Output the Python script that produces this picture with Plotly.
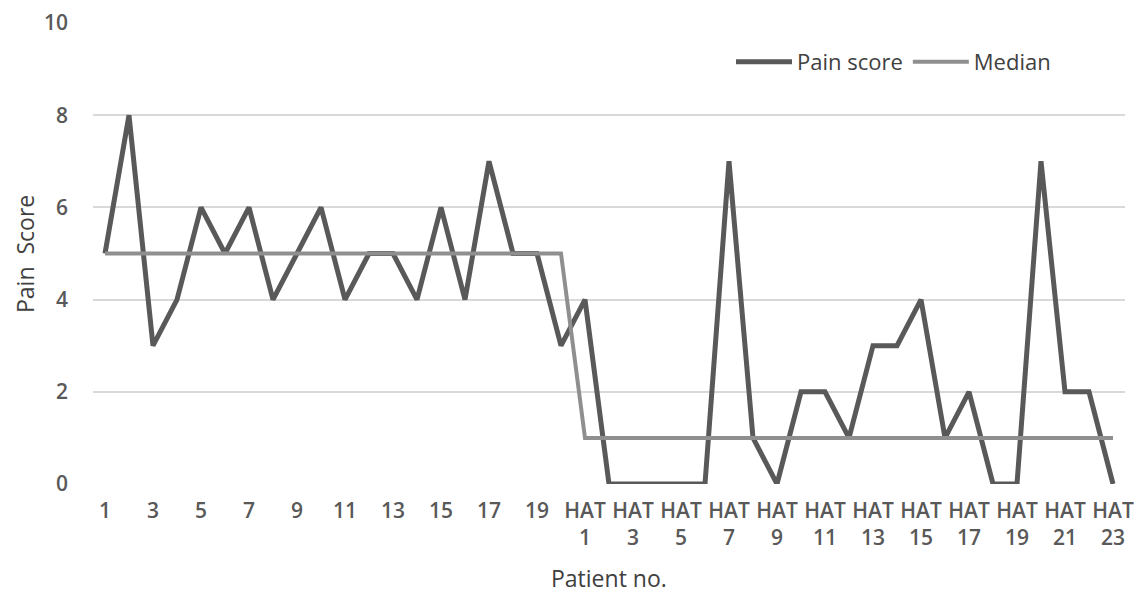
import plotly.graph_objects as go

categories = [str(i) for i in range(1, 21)] + [f"HAT {i}" for i in range(1, 24)]
pain_score = [5, 8, 3, 4, 6, 5, 6, 4, 5, 6, 4, 5, 5, 4, 6, 4, 7, 5, 5, 3,
              4, 0, 0, 0, 0, 0, 7, 1, 0, 2, 2, 1, 3, 3, 4, 1, 2, 0, 0, 7, 2, 2, 0]
median = [5] * 20 + [1] * 23
tick_idx = list(range(0, 43, 2))
tick_text = [categories[i].replace(" ", "<br>") for i in tick_idx]

x = list(range(len(categories)))

fig = go.Figure()
fig.add_trace(go.Scatter(x=x, y=pain_score, mode="lines", name="Pain score",
                         line=dict(color="#595959", width=5),
                         text=categories))
fig.add_trace(go.Scatter(x=x, y=median, mode="lines", name="Median",
                         line=dict(color="#8f8f8f", width=4),
                         text=categories))

tick_font = dict(family="Open Sans", size=21, color="#595959", weight=600)
title_font = dict(family="Open Sans", size=23, color="#404040")

W, H = 1137, 594
pl, pr, pt, pb = 93, 12, 23, 110
pw, ph = W - pl - pr, H - pt - pb

fig.update_layout(
    width=W, height=H,
    paper_bgcolor="white", plot_bgcolor="white",
    margin=dict(l=pl, r=pr, t=pt, b=pb, autoexpand=False),
    font=dict(family="Open Sans, Liberation Sans, sans-serif", color="#595959", size=15),
    showlegend=True,
    legend=dict(orientation="h", x=(731 - pl) / pw, xanchor="left", y=(H - pb - 62) / ph,
                yanchor="middle",
                font=dict(family="Open Sans", size=22, color="#404040"), bgcolor="rgba(0,0,0,0)",
                itemwidth=56, traceorder="normal", tracegroupgap=0),
    xaxis=dict(range=[-0.5, 42.5], tickmode="array", tickvals=tick_idx, ticktext=tick_text,
               showgrid=False, zeroline=False, showline=False, ticks="", automargin=False,
               tickfont=tick_font, ticklabelstandoff=12),
    yaxis=dict(range=[0, 10], dtick=2, showgrid=True, gridcolor="#d9d9d9", gridwidth=1.5,
               zeroline=False, showline=False, ticks="", ticklabelstandoff=24, automargin=False,
               tickfont=tick_font),
    annotations=[
        dict(text="Patient no.", xref="paper", yref="paper",
             x=(609 - pl) / pw, y=(H - pb - 578) / ph, showarrow=False,
             font=title_font, xanchor="center", yanchor="middle"),
        dict(text="Pain  Score", xref="paper", yref="paper",
             x=(25 - pl) / pw, y=(H - pb - 254) / ph, showarrow=False, textangle=-90,
             font=title_font, xanchor="center", yanchor="middle"),
    ],
)
fig.write_html("out.html", config={"displayModeBar": False},
               post_script="document.body.style.margin='0';")
